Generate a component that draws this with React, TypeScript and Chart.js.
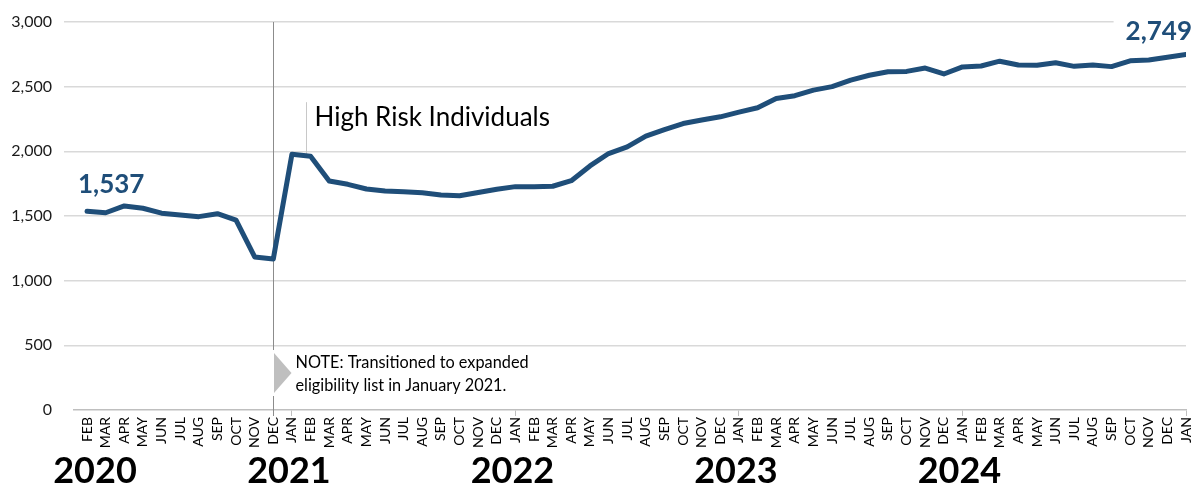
import React, { useEffect, useRef } from "react";
import { Chart, registerables } from "chart.js";

Chart.register(...registerables);

// Monthly enrollment, February 2020 through January 2025
const monthLabels = [
  "FEB", "MAR", "APR", "MAY", "JUN", "JUL", "AUG", "SEP", "OCT", "NOV", "DEC",
  "JAN", "FEB", "MAR", "APR", "MAY", "JUN", "JUL", "AUG", "SEP", "OCT", "NOV", "DEC",
  "JAN", "FEB", "MAR", "APR", "MAY", "JUN", "JUL", "AUG", "SEP", "OCT", "NOV", "DEC",
  "JAN", "FEB", "MAR", "APR", "MAY", "JUN", "JUL", "AUG", "SEP", "OCT", "NOV", "DEC",
  "JAN", "FEB", "MAR", "APR", "MAY", "JUN", "JUL", "AUG", "SEP", "OCT", "NOV", "DEC",
  "JAN",
];

const monthYears = [
  2020, 2020, 2020, 2020, 2020, 2020, 2020, 2020, 2020, 2020, 2020,
  2021, 2021, 2021, 2021, 2021, 2021, 2021, 2021, 2021, 2021, 2021, 2021,
  2022, 2022, 2022, 2022, 2022, 2022, 2022, 2022, 2022, 2022, 2022, 2022,
  2023, 2023, 2023, 2023, 2023, 2023, 2023, 2023, 2023, 2023, 2023, 2023,
  2024, 2024, 2024, 2024, 2024, 2024, 2024, 2024, 2024, 2024, 2024, 2024,
  2025,
];

const yearLabels = ["2020", "2021", "2022", "2023", "2024"];

const highRiskIndividuals = [
  1537, 1525, 1578, 1560, 1522, 1508, 1495, 1518, 1469, 1183, 1168,
  1977, 1962, 1770, 1745, 1709, 1693, 1688, 1680, 1662, 1657, 1682, 1707,
  1727, 1727, 1730, 1773, 1887, 1983, 2034, 2117, 2168, 2215, 2242, 2267,
  2303, 2337, 2408, 2430, 2473, 2500, 2551, 2588, 2615, 2618, 2644, 2598,
  2653, 2660, 2697, 2667, 2665, 2685, 2657, 2667, 2655, 2700, 2706, 2727,
  2749,
];

const yTickValues = [0, 500, 1000, 1500, 2000, 2500, 3000];

const seriesName = "High Risk Individuals";
const noteLines = ["NOTE: Transitioned to expanded", "eligibility list in January 2021."];

const BLUE = "#1F4E79";
const FONT = "Lato, 'Noto Sans', sans-serif";

const fmt = (v: number) => v.toLocaleString("en-US");

const annotations = {
  id: "annotations",
  beforeDatasetsDraw(chart: any) {
    const { ctx, chartArea } = chart;
    const xs = chart.scales.x;
    const ys = chart.scales.y;
    ctx.save();

    // transition marker at December 2020
    const decIdx = monthYears.indexOf(2021) - 1;
    const decX = Math.round(xs.getPixelForValue(decIdx)) + 0.5;
    const triTop = chartArea.bottom - 57;
    const triBot = chartArea.bottom - 17;
    ctx.strokeStyle = "#8C8C8C";
    ctx.lineWidth = 1;
    ctx.beginPath();
    ctx.moveTo(decX, chartArea.top);
    ctx.lineTo(decX, triTop - 3);
    ctx.moveTo(decX, triBot + 3);
    ctx.lineTo(decX, chartArea.bottom + 6);
    ctx.stroke();

    ctx.fillStyle = "#BFBFBF";
    ctx.beginPath();
    ctx.moveTo(decX + 0.5, triTop);
    ctx.lineTo(decX + 18, (triTop + triBot) / 2);
    ctx.lineTo(decX + 0.5, triBot);
    ctx.closePath();
    ctx.fill();

    ctx.fillStyle = "#000000";
    ctx.font = `16.3px ${FONT}`;
    ctx.textAlign = "left";
    ctx.textBaseline = "middle";
    noteLines.forEach((line, i) => {
      ctx.fillText(line, decX + 22, triTop + 10 + i * 23);
    });

    // series callout
    const leadX = Math.round(xs.getPixelForValue(decIdx + 1.75)) + 0.5;
    const leadTop = ys.getPixelForValue(2380);
    const leadBot = ys.getPixelForValue(highRiskIndividuals[decIdx + 2]);
    ctx.strokeStyle = "#C8C8C8";
    ctx.beginPath();
    ctx.moveTo(leadX, leadTop);
    ctx.lineTo(leadX, leadBot);
    ctx.stroke();

    ctx.fillStyle = "#000000";
    ctx.font = `26px ${FONT}`;
    ctx.textBaseline = "alphabetic";
    ctx.fillText(seriesName, leadX + 8, leadTop + 24);

    // end-point value with a white backing
    const last = highRiskIndividuals.length - 1;
    const lx = xs.getPixelForValue(last);
    const ly = ys.getPixelForValue(highRiskIndividuals[last]);
    ctx.font = `bold 26px ${FONT}`;
    const lastText = fmt(highRiskIndividuals[last]);
    const w = ctx.measureText(lastText).width;
    ctx.fillStyle = "#FFFFFF";
    ctx.fillRect(lx + 6 - w - 12, ly - 44, w + 20, 34);
    ctx.fillStyle = BLUE;
    ctx.textAlign = "right";
    ctx.fillText(lastText, lx + 6, ly - 14);

    // start-point value
    const fx = xs.getPixelForValue(0);
    const fy = ys.getPixelForValue(highRiskIndividuals[0]);
    ctx.textAlign = "left";
    ctx.fillText(fmt(highRiskIndividuals[0]), fx - 9, fy - 18);

    ctx.restore();
  },
  afterDraw(chart: any) {
    const { ctx, chartArea } = chart;
    const xs = chart.scales.x;
    ctx.save();

    // month labels, rotated to read bottom-to-top
    ctx.fillStyle = "#000000";
    ctx.font = `14px ${FONT}`;
    ctx.textAlign = "right";
    ctx.textBaseline = "middle";
    monthLabels.forEach((m, i) => {
      const x = xs.getPixelForValue(i);
      ctx.save();
      ctx.translate(x, chartArea.bottom + 7);
      ctx.rotate(-Math.PI / 2);
      ctx.fillText(m, 0, 0);
      ctx.restore();
    });

    // year labels under the first month of each year
    ctx.font = `bold 36px ${FONT}`;
    ctx.textAlign = "center";
    ctx.textBaseline = "alphabetic";
    yearLabels.forEach((yr) => {
      const idx = monthYears.indexOf(Number(yr));
      const x = Math.max(xs.getPixelForValue(idx) - 3, chartArea.left + 21);
      ctx.fillText(yr, x, chartArea.bottom + 73);
    });
    ctx.restore();
  },
};

export default function App() {
  const canvasRef = useRef<HTMLCanvasElement | null>(null);

  useEffect(() => {
    const canvas = canvasRef.current;
    if (!canvas) return;
    const chart = new Chart(canvas, {
      type: "line",
      data: {
        datasets: [
          {
            label: seriesName,
            data: highRiskIndividuals.map((v, i) => ({ x: i, y: v })),
            borderColor: BLUE,
            backgroundColor: BLUE,
            borderWidth: 5,
            pointRadius: 0,
            tension: 0,
            borderJoinStyle: "round",
            borderCapStyle: "round",
          },
        ],
      },
      options: {
        animation: false,
        responsive: false,
        devicePixelRatio: 1,
        layout: { padding: { top: 22, right: 8, left: 0, bottom: 0 } },
        plugins: {
          legend: { display: false },
          tooltip: { enabled: false },
        },
        scales: {
          x: {
            type: "linear",
            min: -0.7,
            max: highRiskIndividuals.length - 1,
            afterBuildTicks: (scale: any) => {
              scale.ticks = monthLabels.map((_, i) => ({ value: i }));
            },
            afterFit: (scale: any) => {
              scale.height = 79;
            },
            ticks: { display: false },
            grid: {
              drawOnChartArea: false,
              drawTicks: true,
              tickLength: 6,
              lineWidth: 1,
              color: (c: any) =>
                c.tick && monthLabels[c.tick.value] === "JAN" ? "#BFBFBF" : "rgba(0,0,0,0)",
            },
            border: { display: true, color: "#BFBFBF", width: 1.5 },
          },
          y: {
            min: 0,
            max: 3000,
            afterBuildTicks: (scale: any) => {
              scale.ticks = yTickValues.map((v) => ({ value: v }));
            },
            afterFit: (scale: any) => {
              scale.width = 74;
            },
            ticks: {
              padding: 12,
              color: "#1A1A1A",
              font: { family: FONT, size: 16 },
              callback: (v: any) => fmt(Number(v)),
            },
            grid: {
              color: (c: any) => (c.tick && c.tick.value === 0 ? "rgba(0,0,0,0)" : "#D9D9D9"),
              lineWidth: 1.5,
              tickLength: 10,
              drawTicks: true,
            },
            border: { display: false },
          },
        },
      },
      plugins: [annotations],
    });
    return () => chart.destroy();
  }, []);

  return (
    <div style={{ position: "absolute", left: 0, top: 0, width: 1194, height: 489, background: "#fff" }}>
      <canvas ref={canvasRef} width={1194} height={489} />
    </div>
  );
}
